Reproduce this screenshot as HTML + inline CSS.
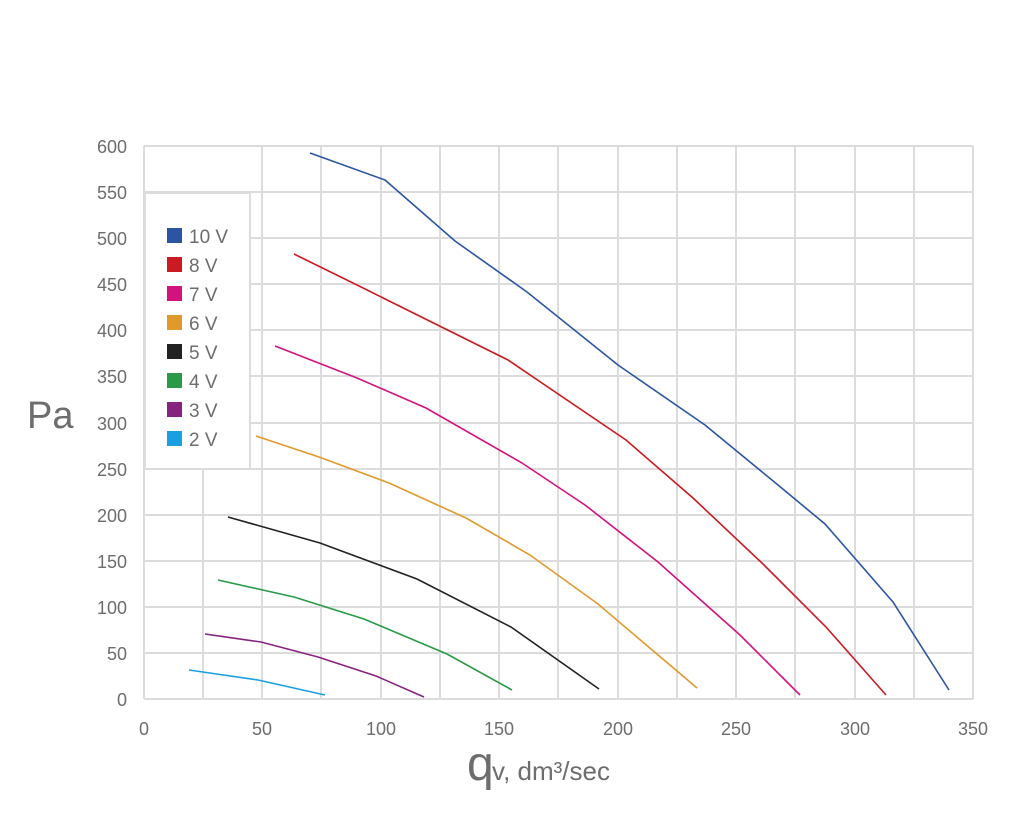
<!DOCTYPE html><html><head><style>body{margin:0;background:#fff}</style></head><body>
<svg width="1024" height="823" xmlns="http://www.w3.org/2000/svg" font-family="Liberation Sans, sans-serif" fill="#6d6d6d">
<g stroke="#dcdcdc" stroke-width="2">
<line x1="144" y1="146" x2="973" y2="146"/><line x1="144" y1="192" x2="973" y2="192"/><line x1="144" y1="238" x2="973" y2="238"/><line x1="144" y1="284" x2="973" y2="284"/><line x1="144" y1="330" x2="973" y2="330"/><line x1="144" y1="376" x2="973" y2="376"/><line x1="144" y1="423" x2="973" y2="423"/><line x1="144" y1="469" x2="973" y2="469"/><line x1="144" y1="515" x2="973" y2="515"/><line x1="144" y1="561" x2="973" y2="561"/><line x1="144" y1="607" x2="973" y2="607"/><line x1="144" y1="653" x2="973" y2="653"/><line x1="144" y1="699" x2="973" y2="699"/>
<line x1="144" y1="146" x2="144" y2="699"/><line x1="203" y1="146" x2="203" y2="699"/><line x1="262" y1="146" x2="262" y2="699"/><line x1="321" y1="146" x2="321" y2="699"/><line x1="381" y1="146" x2="381" y2="699"/><line x1="440" y1="146" x2="440" y2="699"/><line x1="499" y1="146" x2="499" y2="699"/><line x1="558" y1="146" x2="558" y2="699"/><line x1="618" y1="146" x2="618" y2="699"/><line x1="677" y1="146" x2="677" y2="699"/><line x1="736" y1="146" x2="736" y2="699"/><line x1="795" y1="146" x2="795" y2="699"/><line x1="855" y1="146" x2="855" y2="699"/><line x1="914" y1="146" x2="914" y2="699"/><line x1="973" y1="146" x2="973" y2="699"/>
</g>
<rect x="145" y="193" width="105" height="276" fill="#fff" stroke="#dcdcdc" stroke-width="2"/>
<rect x="145" y="147" width="104" height="44" fill="#fff"/>
<g fill="none" stroke-width="1.6">
<polyline stroke="#2b55a3" points="310,153 385,180 455,241 527,292 618,365 705,425 778,485 825,524 893,602 949,690"/>
<polyline stroke="#cc1a22" points="294,254 357,285 508,360 626,440 693,498 763,564 826,627 886,695"/>
<polyline stroke="#d4127f" points="275,346 357,378 426,408 522,463 585,505 658,562 740,635 800,695"/>
<polyline stroke="#e09a2c" points="256,436 319,457 389,483 466,518 530,555 598,604 697,688"/>
<polyline stroke="#222" points="228,517 320,543 417,579 511,627 599,689"/>
<polyline stroke="#2a9a48" points="218,580 294,597 364,619 447,654 512,690"/>
<polyline stroke="#86237f" points="205,634 261,642 318,657 376,676 424,697"/>
<polyline stroke="#1aa0e0" points="189,670 258,680 325,695"/>
</g>
<g font-size="19">
<rect x="167" y="228" width="15" height="15" fill="#2b55a3"/><text x="189" y="243">10 V</text>
<rect x="167" y="257" width="15" height="15" fill="#cc1a22"/><text x="189" y="272">8 V</text>
<rect x="167" y="286" width="15" height="15" fill="#d4127f"/><text x="189" y="301">7 V</text>
<rect x="167" y="315" width="15" height="15" fill="#e09a2c"/><text x="189" y="330">6 V</text>
<rect x="167" y="344" width="15" height="15" fill="#222"/><text x="189" y="359">5 V</text>
<rect x="167" y="373" width="15" height="15" fill="#2a9a48"/><text x="189" y="388">4 V</text>
<rect x="167" y="402" width="15" height="15" fill="#86237f"/><text x="189" y="417">3 V</text>
<rect x="167" y="431" width="15" height="15" fill="#1aa0e0"/><text x="189" y="446">2 V</text>
</g>
<g font-size="18" text-anchor="end">
<text x="127" y="153">600</text><text x="127" y="199">550</text><text x="127" y="245">500</text><text x="127" y="291">450</text><text x="127" y="337">400</text><text x="127" y="383">350</text><text x="127" y="430">300</text><text x="127" y="476">250</text><text x="127" y="522">200</text><text x="127" y="568">150</text><text x="127" y="614">100</text><text x="127" y="660">50</text><text x="127" y="706">0</text>
</g>
<g font-size="18" text-anchor="middle">
<text x="144" y="735">0</text><text x="262" y="735">50</text><text x="381" y="735">100</text><text x="499" y="735">150</text><text x="618" y="735">200</text><text x="736" y="735">250</text><text x="855" y="735">300</text><text x="973" y="735">350</text>
</g>
<text x="27" y="428" font-size="38">Pa</text>
<text x="467" y="780" font-size="48">q</text><text x="492" y="780" font-size="26">v, dm³/sec</text>
</svg>
</body></html>
